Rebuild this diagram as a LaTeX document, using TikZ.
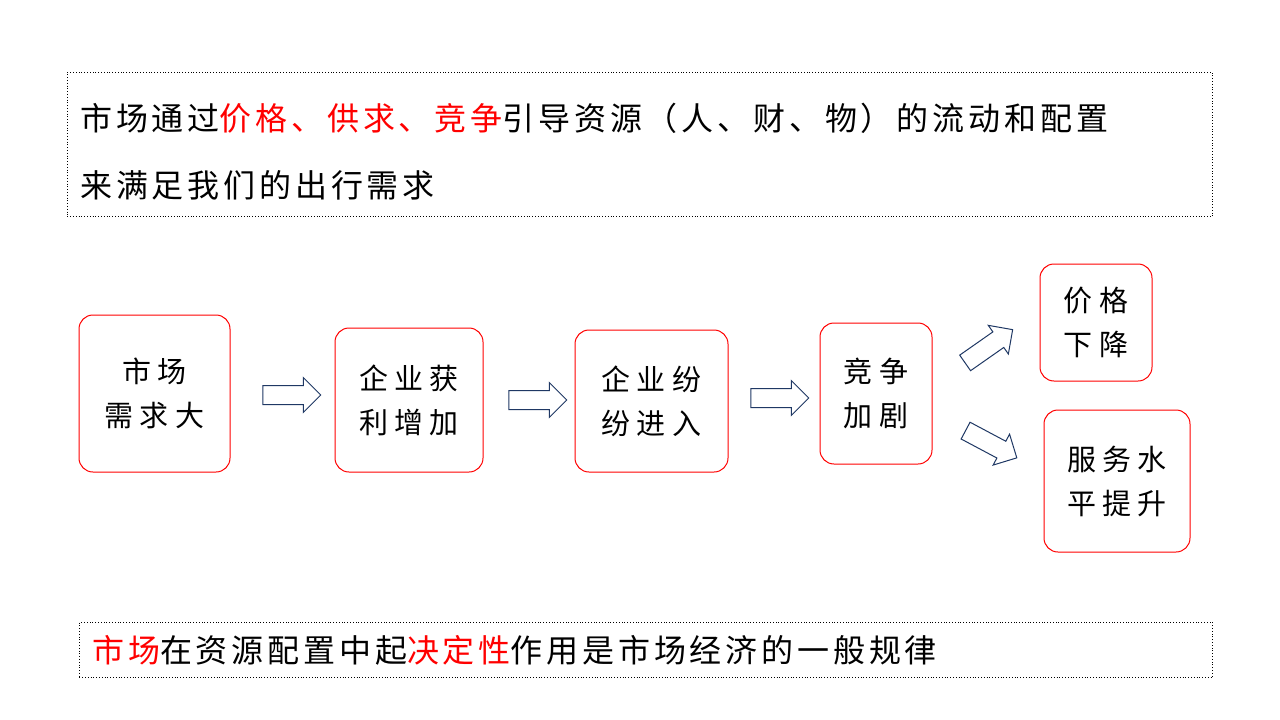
\documentclass[tikz,border=0pt]{standalone}
\usepackage{fontspec}
\newfontfamily\cjk[LetterSpace=12]{Noto Sans CJK SC}
\newfontfamily\cjkr[LetterSpace=12,Color=FF0000]{Noto Sans CJK SC}
\newfontfamily\cjkb[LetterSpace=22]{Noto Sans CJK SC}
\newcommand{\rd}[1]{{\cjkr\fontsize{32}{40}\selectfont #1}}
\usetikzlibrary{shapes.arrows}
\definecolor{arrb}{HTML}{1F3864}
\begin{document}
\begin{tikzpicture}[x=1pt,y=-1pt,
  box/.style={draw=red,line width=1pt,rounded corners=14pt,align=center,font=\cjkb\fontsize{29}{44}\selectfont,inner sep=0pt},
  frame/.style={draw=black,dotted,line width=0.8pt},
  txt/.style={anchor=west,font=\cjk\fontsize{32}{40}\selectfont,inner sep=0pt},
  arr/.style={single arrow,draw=arrb,fill=white,line width=1pt,minimum height=58pt,minimum width=34pt,single arrow head extend=8pt,inner xsep=0pt,inner ysep=9pt}]
\useasboundingbox (0,0) rectangle (1280,720);
\node[frame,minimum width=1145pt,minimum height=144pt,anchor=north west] (top) at (67,72) {};
\node[txt] (t1) at (80,118) {市场通过\rd{价格、供求、竞争}引导资源（人、财、物）的流动和配置};
\node[txt] (t2) at (80,185) {来满足我们的出行需求};
\node[frame,minimum width=1133pt,minimum height=55pt,anchor=north west] (bot) at (79,622) {};
\node[txt] (b1) at (92,650) {\rd{市场}在资源配置中起\rd{决定性}作用是市场经济的一般规律};
\node[box,minimum width=151pt,minimum height=157pt] (n1) at (154.5,393.5) {市场\\需求大};
\node[box,minimum width=148pt,minimum height=144pt] (n2) at (409,400) {企业获\\利增加};
\node[box,minimum width=153pt,minimum height=142pt] (n3) at (651.5,401) {企业纷\\纷进入};
\node[box,minimum width=112pt,minimum height=141pt] (n4) at (876,393.5) {竞争\\加剧};
\node[box,minimum width=112pt,minimum height=117pt] (n5) at (1096,322.5) {价格\\下降};
\node[box,minimum width=146pt,minimum height=142pt] (n6) at (1117,481) {服务水\\平提升};
\node[arr] (a1) at (287,395) {};
\node[arr] (a2) at (533,400) {};
\node[arr] (a3) at (775,398) {};
\node[arr,rotate=35] (a4) at (985,349) {};
\node[arr,rotate=-28] (a5) at (987,442) {};
\end{tikzpicture}
\end{document}
